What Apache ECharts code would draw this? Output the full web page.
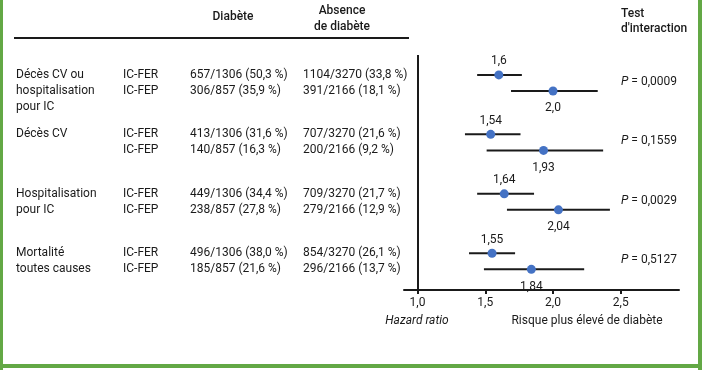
<!DOCTYPE html>
<html><head><meta charset="utf-8">
<script src="https://cdn.jsdelivr.net/npm/echarts@6/dist/echarts.min.js"></script>
<style>html,body{margin:0;padding:0;background:#fff}#c{width:702px;height:370px}</style>
</head><body><div id="c"></div>
<script>
const outcomes = [["Décès CV ou","hospitalisation","pour IC"],["Décès CV"],["Hospitalisation","pour IC"],["Mortalité","toutes causes"]];
const groups = ["IC-FER","IC-FEP"];
const diabete = [["657/1306 (50,3 %)","306/857 (35,9 %)"],["413/1306 (31,6 %)","140/857 (16,3 %)"],["449/1306 (34,4 %)","238/857 (27,8 %)"],["496/1306 (38,0 %)","185/857 (21,6 %)"]];
const absence = [["1104/3270 (33,8 %)","391/2166 (18,1 %)"],["707/3270 (21,6 %)","200/2166 (9,2 %)"],["709/3270 (21,7 %)","279/2166 (12,9 %)"],["854/3270 (26,1 %)","296/2166 (13,7 %)"]];
const hr = [[1.6,2.0],[1.54,1.93],[1.64,2.04],[1.55,1.84]];
const hrLabels = [["1,6","2,0"],["1,54","1,93"],["1,64","2,04"],["1,55","1,84"]];
const ciLow = [[1.44,1.69],[1.35,1.51],[1.44,1.66],[1.38,1.49]];
const ciHigh = [[1.77,2.33],[1.76,2.37],[1.86,2.42],[1.72,2.23]];
const pValues = ["0,0009","0,1559","0,0029","0,5127"];
const xTicks = [1.0,1.5,2.0,2.5];

const FONT = 'Roboto';
const TXT = '#1a1a1a';
const SUB = 0.27;
const rowY = (g, s) => g + s * SUB;

const pts = [], bars = [];
hr.forEach((pair, g) => pair.forEach((v, s) => {
  pts.push({value:[v, rowY(g,s)], label:{formatter:hrLabels[g][s], position: s===0?'top':'bottom', distance: s===0?3:7}});
  bars.push([ciLow[g][s], ciHigh[g][s], rowY(g,s)]);
}));

const chart = echarts.init(document.getElementById('c'), null, {renderer:'canvas'});
chart.setOption({
  animation:false,
  textStyle:{fontFamily:FONT},
  grid:{left:404, right:23, top:55, bottom:80},
  xAxis:{type:'value', min:0.9, max:2.93,
    axisLine:{show:true, onZero:false, lineStyle:{color:TXT, width:2}},
    axisTick:{show:true, customValues:xTicks, length:4, inside:false, lineStyle:{color:TXT, width:2}},
    axisLabel:{customValues:xTicks, color:TXT, fontSize:12, fontFamily:FONT, margin:7,
      formatter:v=>v.toFixed(1).replace('.',',')},
    splitLine:{show:false}},
  yAxis:{type:'value', inverse:true, min:-0.335, max:3.618, show:false},
  series:[
    {type:'custom', renderItem:(params, api)=>{
        const a = api.coord([api.value(0), api.value(2)]);
        const b = api.coord([api.value(1), api.value(2)]);
        return {type:'line', shape:{x1:a[0], y1:a[1], x2:b[0], y2:b[1]}, style:{stroke:'#1a1a1a', lineWidth:2}};
      }, encode:{x:[0,1], y:2}, data:bars, z:2},
    {type:'scatter', symbolSize:9, itemStyle:{color:'#4472c4', opacity:1}, z:3,
      label:{show:true, color:TXT, fontSize:12, fontFamily:FONT},
      data:pts,
      markLine:{silent:true, symbol:'none', label:{show:false},
        lineStyle:{color:TXT, width:2, type:'solid', opacity:1},
        data:[[{coord:[1, -0.335]},{coord:[1, 3.618], y:294}]]}}
  ]
});

const gfx = [];
const T = (text, x, y, extra) => gfx.push({type:'text', x, y, style:Object.assign({text, fill:TXT, font:'12px '+FONT, textVerticalAlign:'middle'}, extra||{})});
const py = v => chart.convertToPixel({yAxisIndex:0}, v);
outcomes.forEach((lines, g) => {
  const y0 = py(rowY(g,0));
  lines.forEach((t, i) => T(t, 16, y0 + i*16));
  groups.forEach((gr, s) => {
    const y = py(rowY(g,s));
    T(gr, 123, y);
    T(diabete[g][s], 190, y);
    T(absence[g][s], 303, y);
  });
  const ym = (py(rowY(g,0)) + py(rowY(g,1))) / 2 - 1;
  gfx.push({type:'text', x:621, y:ym, style:{rich:{i:{fontStyle:'italic', fontSize:12, fontFamily:FONT, fill:TXT}, n:{fontSize:12, fontFamily:FONT, fill:TXT}}, text:'{i|P}{n| = '+pValues[g]+'}', textVerticalAlign:'middle'}});
});
const HB = {font:'500 12px '+FONT};
T('Diabète', 233, 17, Object.assign({textAlign:'center'}, HB));
T('Absence', 342, 11, Object.assign({textAlign:'center'}, HB));
T('de diabète', 342, 27, Object.assign({textAlign:'center'}, HB));
T('Test', 621, 14, HB);
T("d'interaction", 621, 29, HB);
T('Hazard ratio', 417, 321, {textAlign:'center', font:'italic 12px '+FONT});
T('Risque plus élevé de diabète', 587, 321, {textAlign:'center'});
gfx.push({type:'line', shape:{x1:14, y1:38, x2:409, y2:38}, style:{stroke:TXT, lineWidth:2}});
const G = '#63a845';
gfx.push({type:'rect', shape:{x:0, y:0, width:3, height:370}, style:{fill:G}});
gfx.push({type:'rect', shape:{x:698, y:0, width:4, height:370}, style:{fill:G}});
gfx.push({type:'rect', shape:{x:0, y:364, width:702, height:4}, style:{fill:G}});
chart.setOption({graphic:{elements:gfx}});
</script></body></html>
